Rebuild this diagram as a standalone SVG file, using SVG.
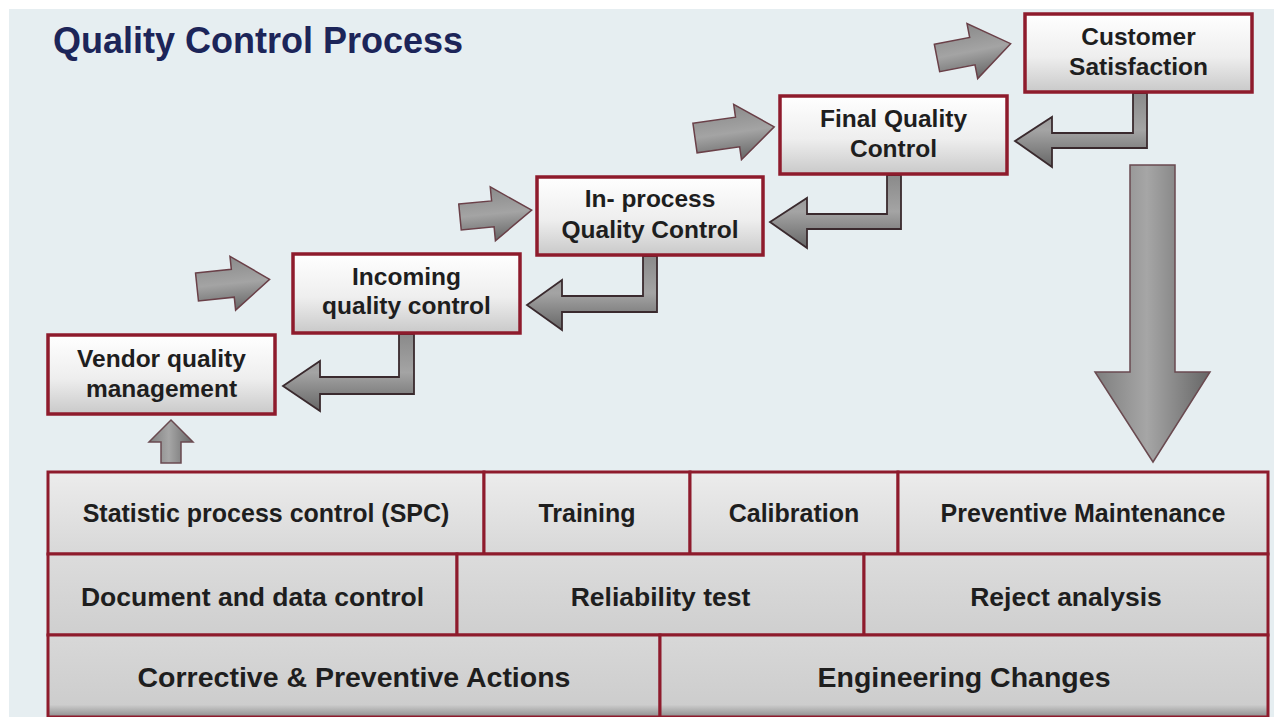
<svg xmlns="http://www.w3.org/2000/svg" width="1274" height="717" viewBox="0 0 1274 717">
<defs>
<linearGradient id="boxg" x1="0" y1="0" x2="0" y2="1">
<stop offset="0" stop-color="#ffffff"/>
<stop offset="0.55" stop-color="#eeeeee"/>
<stop offset="1" stop-color="#c9c9c9"/>
</linearGradient>
<linearGradient id="r1g" x1="0" y1="0" x2="0" y2="1">
<stop offset="0" stop-color="#ececec"/>
<stop offset="1" stop-color="#d8d8d8"/>
</linearGradient>
<linearGradient id="r2g" x1="0" y1="0" x2="0" y2="1">
<stop offset="0" stop-color="#dcdcdc"/>
<stop offset="1" stop-color="#cfcfcf"/>
</linearGradient>
<linearGradient id="r3g" x1="0" y1="0" x2="0" y2="1">
<stop offset="0" stop-color="#d8d8d8"/>
<stop offset="0.85" stop-color="#cdcdcd"/>
<stop offset="1" stop-color="#8e8e8e"/>
</linearGradient>
<linearGradient id="arrH" x1="0" y1="0" x2="0" y2="1">
<stop offset="0" stop-color="#8a8a8a"/>
<stop offset="0.5" stop-color="#a4a4a4"/>
<stop offset="1" stop-color="#666666"/>
</linearGradient>
<linearGradient id="arrV" x1="0" y1="0" x2="1" y2="0">
<stop offset="0" stop-color="#7e7e7e"/>
<stop offset="0.45" stop-color="#a6a6a6"/>
<stop offset="1" stop-color="#666666"/>
</linearGradient>
<style>
.box{fill:url(#boxg);stroke:#8e1b2c;stroke-width:3.5}
.bt{font-family:"Liberation Sans",Arial,sans-serif;font-weight:bold;font-size:24.5px;fill:#1e1e1e;text-anchor:middle}
.cell{stroke:#8e1b2c;stroke-width:3}
.c1{fill:url(#r1g)}
.c2{fill:url(#r2g)}
.c3{fill:url(#r3g)}
.t1{font-family:"Liberation Sans",Arial,sans-serif;font-weight:bold;font-size:25px;fill:#1e1e1e;text-anchor:middle}
.t2{font-family:"Liberation Sans",Arial,sans-serif;font-weight:bold;font-size:26.5px;fill:#1e1e1e;text-anchor:middle}
.t3{font-family:"Liberation Sans",Arial,sans-serif;font-weight:bold;font-size:28.5px;fill:#1e1e1e;text-anchor:middle}
.ra{fill:url(#arrH);stroke:#6a4048;stroke-width:1.5;stroke-linejoin:miter}
.la{fill:url(#arrH);stroke:#3a2a2e;stroke-width:1.8;stroke-linejoin:miter}
.va{fill:url(#arrV);stroke:#6a4a50;stroke-width:1.5}
</style>
</defs>
<rect x="0" y="0" width="1274" height="717" fill="#ffffff"/>
<rect x="9" y="9" width="1265" height="708" fill="#e6eef1"/>
<text x="53" y="53" font-family="Liberation Sans, Arial, sans-serif" font-weight="bold" font-size="36" fill="#1c2559">Quality Control Process</text>

<g id="connectors">
<path class="ra" transform="translate(197,287) rotate(-6)" d="M0,-14 H36 V-27 L73,0 L36,27 V14 H0 Z"/>
<path class="ra" transform="translate(460,217) rotate(-5.5)" d="M0,-13 H33 V-27 L72,0 L33,27 V13 H0 Z"/>
<path class="ra" transform="translate(695,138) rotate(-8)" d="M0,-15 H43 V-28 L80,0 L43,28 V15 H0 Z"/>
<path class="ra" transform="translate(937,58) rotate(-11)" d="M0,-14 H36 V-28 L75,0 L36,28 V14 H0 Z"/>

<path class="la" d="M399,334 H414 V394 H320 V411 L283,386 L320,361 V377 H399 Z"/>
<path class="la" d="M643,256 H657 V312 H562 V330 L527,305 L562,280 V296 H643 Z"/>
<path class="la" d="M887,175 H901 V229 H807 V248 L770,222 L807,198 V214 H887 Z"/>
<path class="la" d="M1133,93 H1147 V148 H1052 V167 L1015,141 L1052,117 V133 H1133 Z"/>

<path class="va" d="M1130,165 H1175 V372 H1210 L1153,462 L1095,372 H1130 Z"/>
<path class="va" d="M161,463 V442 H149 L171,420 L193,442 H181 V463 Z"/>
</g>

<g id="vendor">
<rect class="box" x="48" y="335" width="227" height="79"/>
<text class="bt" x="161.5" y="367">Vendor quality</text>
<text class="bt" x="161.5" y="397">management</text>
</g>
<g id="incoming">
<rect class="box" x="293" y="254" width="227" height="79"/>
<text class="bt" x="406.5" y="285">Incoming</text>
<text class="bt" x="406.5" y="314">quality control</text>
</g>
<g id="inprocess">
<rect class="box" x="537" y="177" width="226" height="78"/>
<text class="bt" x="650" y="207">In- process</text>
<text class="bt" x="650" y="238">Quality Control</text>
</g>
<g id="final">
<rect class="box" x="780" y="96" width="227" height="78"/>
<text class="bt" x="893.5" y="127">Final Quality</text>
<text class="bt" x="893.5" y="157">Control</text>
</g>
<g id="customer">
<rect class="box" x="1025" y="14" width="227" height="78"/>
<text class="bt" x="1138.5" y="45">Customer</text>
<text class="bt" x="1138.5" y="75">Satisfaction</text>
</g>

<g id="spc"><rect class="cell c1" x="48" y="472" width="436" height="82"/><text class="t1" x="266" y="522">Statistic process control (SPC)</text></g>
<g id="training"><rect class="cell c1" x="484" y="472" width="206" height="82"/><text class="t1" x="587" y="522">Training</text></g>
<g id="calibration"><rect class="cell c1" x="690" y="472" width="208" height="82"/><text class="t1" x="794" y="522">Calibration</text></g>
<g id="preventive"><rect class="cell c1" x="898" y="472" width="370" height="82"/><text class="t1" x="1083" y="522">Preventive Maintenance</text></g>

<g id="document"><rect class="cell c2" x="48" y="554" width="409" height="81"/><text class="t2" x="252.5" y="606">Document and data control</text></g>
<g id="reliability"><rect class="cell c2" x="457" y="554" width="407" height="81"/><text class="t2" x="660.5" y="606">Reliability test</text></g>
<g id="reject"><rect class="cell c2" x="864" y="554" width="404" height="81"/><text class="t2" x="1066" y="606">Reject analysis</text></g>

<g id="capa"><rect class="cell c3" x="48" y="635" width="612" height="82"/><text class="t3" x="354" y="687">Corrective &amp; Preventive Actions</text></g>
<g id="engineering"><rect class="cell c3" x="660" y="635" width="608" height="82"/><text class="t3" x="964" y="687">Engineering Changes</text></g>
</svg>
